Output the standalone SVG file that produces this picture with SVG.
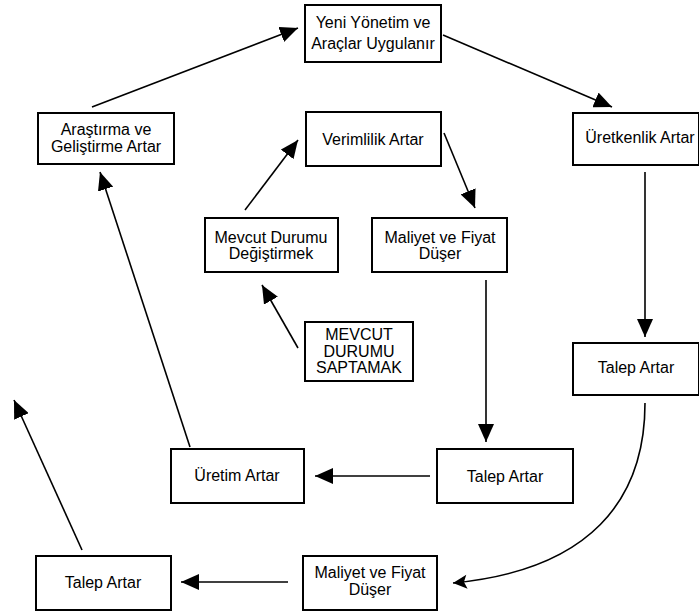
<svg xmlns="http://www.w3.org/2000/svg" width="699" height="613" viewBox="0 0 699 613">
<style>
.box{fill:#fff;stroke:#000;stroke-width:2}
.t{font-family:"Liberation Sans",Arial,sans-serif;font-size:16px;fill:#000;text-anchor:middle}
.c{fill:none;stroke:#000;stroke-width:1.6}
</style>
<defs>
<marker id="ah" markerUnits="userSpaceOnUse" markerWidth="20" markerHeight="16" refX="18" refY="8" orient="auto">
<path d="M0,0 L18,8 L0,16 Z" fill="#000"/>
</marker>
<marker id="oh" markerUnits="userSpaceOnUse" markerWidth="18" markerHeight="16" refX="16" refY="8" orient="auto">
<path d="M2,1 L16,8 L2,15 L5,8 Z" fill="#000"/>
</marker>
</defs>
<rect width="699" height="613" fill="#fff"/>
<g id="connectors">
<line class="c" x1="92" y1="107" x2="298" y2="28" marker-end="url(#ah)"/>
<line class="c" x1="443" y1="35" x2="612" y2="107" marker-end="url(#ah)"/>
<line class="c" x1="645" y1="172" x2="645" y2="337" marker-end="url(#ah)"/>
<line class="c" x1="444" y1="133" x2="475" y2="208" marker-end="url(#ah)"/>
<line class="c" x1="245" y1="210" x2="298" y2="140" marker-end="url(#ah)"/>
<line class="c" x1="298" y1="348" x2="262" y2="285" marker-end="url(#ah)"/>
<line class="c" x1="486" y1="280" x2="486" y2="442" marker-end="url(#ah)"/>
<line class="c" x1="430" y1="476" x2="315" y2="476" marker-end="url(#ah)"/>
<line class="c" x1="190" y1="447" x2="100" y2="172" marker-end="url(#ah)"/>
<line class="c" x1="82" y1="550" x2="14" y2="400" marker-end="url(#ah)"/>
<line class="c" x1="288" y1="582" x2="181" y2="582" marker-end="url(#ah)"/>
<path class="c" d="M645,403 C645,500 590,570 453,583" marker-end="url(#oh)"/>
</g>
<g id="n1"><rect class="box" x="305" y="5" width="136" height="57"/><text class="t" x="373" y="28">Yeni Yönetim ve</text><text class="t" x="373" y="49">Araçlar Uygulanır</text></g>
<g id="n2"><rect class="box" x="38" y="113" width="136" height="51"/><text class="t" x="106" y="135">Araştırma ve</text><text class="t" x="106" y="152">Geliştirme Artar</text></g>
<g id="n3"><rect class="box" x="306" y="112" width="135" height="54"/><text class="t" x="373" y="145">Verimlilik Artar</text></g>
<g id="n4"><rect class="box" x="573" y="113" width="126" height="52"/><text class="t" x="640" y="143">Üretkenlik Artar</text></g>
<g id="n5"><rect class="box" x="205" y="218" width="133" height="54"/><text class="t" x="271" y="243">Mevcut Durumu</text><text class="t" x="271" y="259">Değiştirmek</text></g>
<g id="n6"><rect class="box" x="372" y="218" width="135" height="54"/><text class="t" x="440" y="243">Maliyet ve Fiyat</text><text class="t" x="440" y="259">Düşer</text></g>
<g id="n7"><rect class="box" x="305" y="322" width="108" height="59"/><text class="t" x="359" y="340">MEVCUT</text><text class="t" x="359" y="357">DURUMU</text><text class="t" x="359" y="373">SAPTAMAK</text></g>
<g id="n8"><rect class="box" x="573" y="343" width="126" height="52"/><text class="t" x="636" y="373">Talep Artar</text></g>
<g id="n9"><rect class="box" x="171" y="449" width="133" height="54"/><text class="t" x="237" y="481">Üretim Artar</text></g>
<g id="n10"><rect class="box" x="437" y="449" width="136" height="54"/><text class="t" x="505" y="482">Talep Artar</text></g>
<g id="n11"><rect class="box" x="36" y="556" width="135" height="54"/><text class="t" x="103" y="588">Talep Artar</text></g>
<g id="n12"><rect class="box" x="303" y="556" width="134" height="54"/><text class="t" x="370" y="578">Maliyet ve Fiyat</text><text class="t" x="370" y="595">Düşer</text></g>
</svg>
